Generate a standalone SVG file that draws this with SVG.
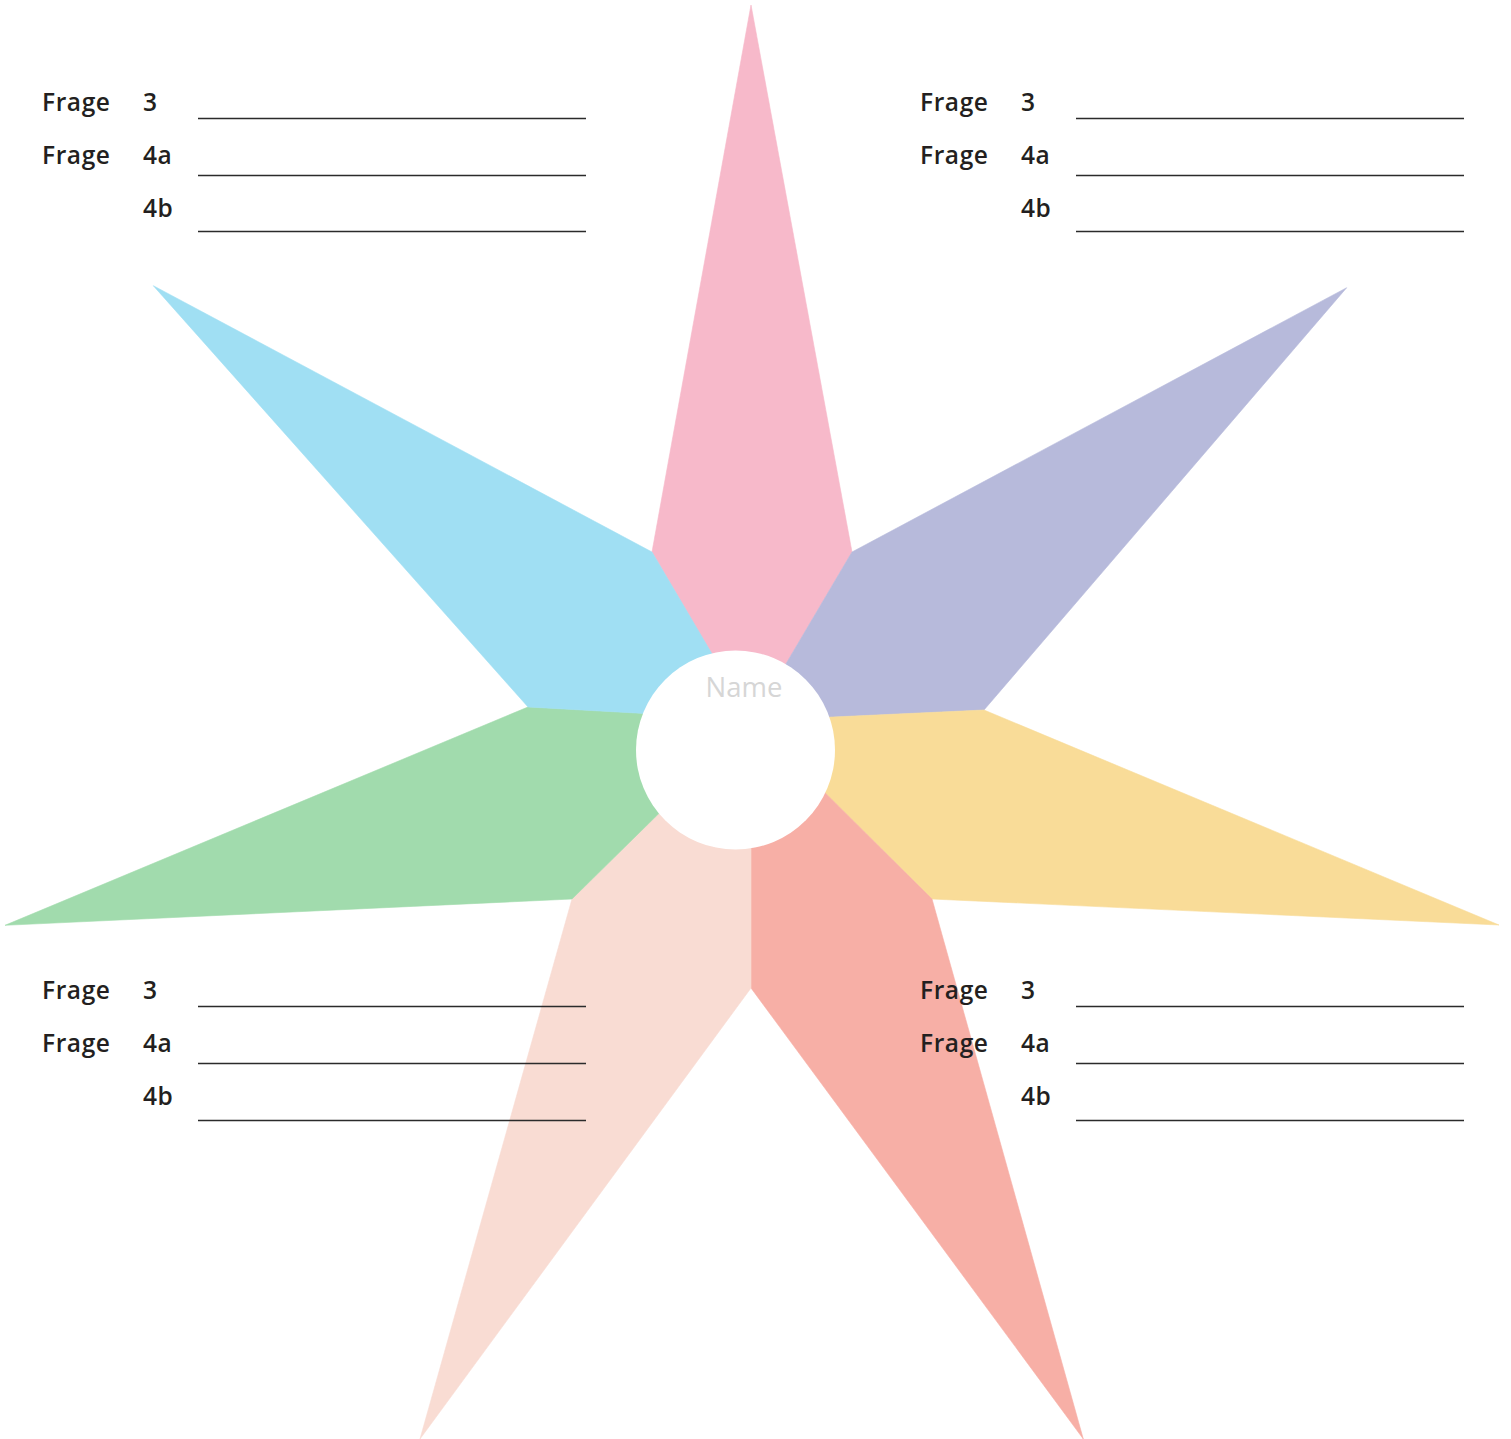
<svg xmlns="http://www.w3.org/2000/svg" width="1511" height="1439" viewBox="0 0 1511 1439">
  <style>
    .lbl { font-family: "Open Sans", "Noto Sans", "Liberation Sans", sans-serif; font-size: 24.5px; font-weight: 600; letter-spacing: 0.6px; fill: #231f20; }
    .name { font-family: "Open Sans", "Noto Sans", "Liberation Sans", sans-serif; font-size: 27.5px; font-weight: 400; fill: #d6d6d6; }
    .rule { stroke: #2b2b2b; stroke-width: 1.3; fill: none; }
    .petal { stroke-width: 0.6; stroke-linejoin: round; }
  </style>
  <rect width="1511" height="1439" fill="#ffffff"/>
  <g id="star">
    <polygon id="petal-pink" class="petal" fill="#f7b9ca" stroke="#f7b9ca" points="751,5 852,552 754,718 741,704 652,552"/>
    <polygon id="petal-purple" class="petal" fill="#b7badb" stroke="#b7badb" points="852,552 1346.7,287.7 984,710 790,719 754,718"/>
    <polygon id="petal-yellow" class="petal" fill="#f9dc98" stroke="#f9dc98" points="984,710 1499,925 932,899 790,758 790,719"/>
    <polygon id="petal-red" class="petal" fill="#f7afa6" stroke="#f7afa6" points="932,899 1083.3,1439 751,988 751,780 790,758"/>
    <polygon id="petal-peach" class="petal" fill="#f9dcd3" stroke="#f9dcd3" points="751,988 420,1439 572,899 700,773 751,780"/>
    <polygon id="petal-green" class="petal" fill="#a1dbad" stroke="#a1dbad" points="572,899 5,925.3 528,707 690,716 700,773"/>
    <polygon id="petal-blue" class="petal" fill="#a0dff3" stroke="#a0dff3" points="528,707 153.3,285.7 652,552 741,703 690,716"/>
  </g>
  <g id="center">
    <circle cx="735.5" cy="750" r="99.5" fill="#ffffff"/>
    <text class="name" x="744" y="697" text-anchor="middle">Name</text>
  </g>
  <g id="block-top-left">
    <text class="lbl" x="42" y="111">Frage</text>
    <text class="lbl" x="143" y="111">3</text>
    <text class="lbl" x="42" y="164">Frage</text>
    <text class="lbl" x="143" y="164">4a</text>
    <text class="lbl" x="143" y="217">4b</text>
    <line class="rule" x1="198" y1="118.5" x2="586" y2="118.5"/>
    <line class="rule" x1="198" y1="175.5" x2="586" y2="175.5"/>
    <line class="rule" x1="198" y1="231.5" x2="586" y2="231.5"/>
  </g>
  <g id="block-top-right">
    <text class="lbl" x="920" y="111">Frage</text>
    <text class="lbl" x="1021" y="111">3</text>
    <text class="lbl" x="920" y="164">Frage</text>
    <text class="lbl" x="1021" y="164">4a</text>
    <text class="lbl" x="1021" y="217">4b</text>
    <line class="rule" x1="1076" y1="118.5" x2="1464" y2="118.5"/>
    <line class="rule" x1="1076" y1="175.5" x2="1464" y2="175.5"/>
    <line class="rule" x1="1076" y1="231.5" x2="1464" y2="231.5"/>
  </g>
  <g id="block-bottom-left">
    <text class="lbl" x="42" y="999">Frage</text>
    <text class="lbl" x="143" y="999">3</text>
    <text class="lbl" x="42" y="1052">Frage</text>
    <text class="lbl" x="143" y="1052">4a</text>
    <text class="lbl" x="143" y="1105">4b</text>
    <line class="rule" x1="198" y1="1006.5" x2="586" y2="1006.5"/>
    <line class="rule" x1="198" y1="1063.5" x2="586" y2="1063.5"/>
    <line class="rule" x1="198" y1="1120.5" x2="586" y2="1120.5"/>
  </g>
  <g id="block-bottom-right">
    <text class="lbl" x="920" y="999">Frage</text>
    <text class="lbl" x="1021" y="999">3</text>
    <text class="lbl" x="920" y="1052">Frage</text>
    <text class="lbl" x="1021" y="1052">4a</text>
    <text class="lbl" x="1021" y="1105">4b</text>
    <line class="rule" x1="1076" y1="1006.5" x2="1464" y2="1006.5"/>
    <line class="rule" x1="1076" y1="1063.5" x2="1464" y2="1063.5"/>
    <line class="rule" x1="1076" y1="1120.5" x2="1464" y2="1120.5"/>
  </g>
  <g id="connectors"/>
</svg>
